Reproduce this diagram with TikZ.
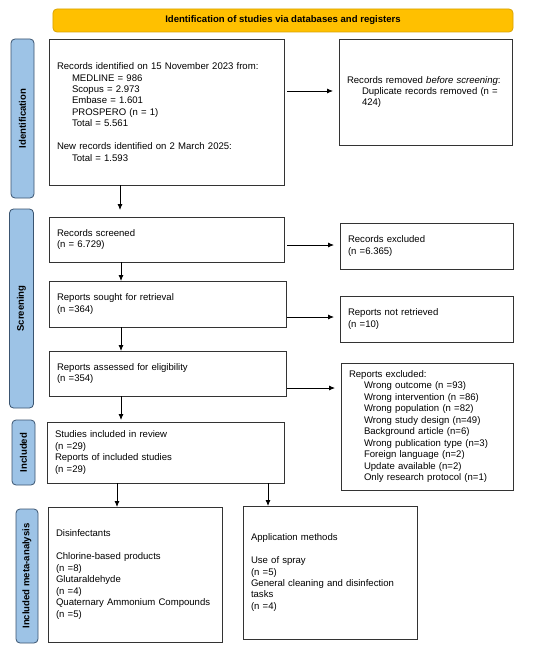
\documentclass[tikz,border=0pt]{standalone}
\usepackage{fontspec}
\setmainfont{Liberation Sans}
\usetikzlibrary{arrows.meta}
\definecolor{hdrfill}{HTML}{FFC000}
\definecolor{hdrdraw}{HTML}{D9A300}
\definecolor{labfill}{HTML}{9DC3E6}
\definecolor{labdraw}{HTML}{3A5470}
\definecolor{boxdraw}{HTML}{333333}
\newcommand\ind{\hspace*{15bp}}
\tikzset{
  box/.style={draw=boxdraw, line width=0.8bp, fill=white, inner xsep=8bp, inner ysep=0bp,
    align=left, font=\fontsize{9.6}{11.5}\selectfont, anchor=north west, outer sep=0pt},
  lab/.style={draw=labdraw, line width=0.8bp, fill=labfill, rounded corners=4bp, rotate=90,
    font=\fontsize{9.6}{11.5}\selectfont\bfseries, inner sep=0pt, outer sep=0pt},
  hdr/.style={draw=hdrdraw, line width=0.8bp, fill=hdrfill, rounded corners=4bp,
    font=\fontsize{9.6}{11.5}\selectfont\bfseries, inner sep=0pt},
  arr/.style={-{Latex[length=6bp,width=5bp]}, line width=0.8bp, black},
}
\begin{document}
\begin{tikzpicture}[x=1bp,y=-1bp]
\useasboundingbox (0,0) rectangle (550,652);
\fill[white] (0,0) rectangle (550,652);

\node[hdr, minimum width=460bp, minimum height=23bp] (hdr) at (283,20.5)
  {Identification of studies via databases and registers};

\node[lab, minimum width=159bp, minimum height=23bp] (idlab) at (22.5,118.5) {Identification};
\node[lab, minimum width=199bp, minimum height=24bp] (scrlab) at (21.5,308.5) {Screening};
\node[lab, minimum width=65bp, minimum height=23bp] (inclab) at (23.5,452.5) {Included};
\node[lab, minimum width=134bp, minimum height=22bp] (metalab) at (27,576) {Included meta-analysis};

\node[box, text width=219bp, minimum height=146bp] (b1) at (49,39) {%
Records identified on 15 November 2023 from:\\
\ind MEDLINE = 986\\
\ind Scopus = 2.973\\
\ind Embase = 1.601\\
\ind PROSPERO (n = 1)\\
\ind Total = 5.561\\[11.5bp]
New records identified on 2 March 2025:\\
\ind Total = 1.593};

\node[box, text width=157bp, minimum height=106bp] (rem) at (339,39) {%
Records removed \textit{before screening}:\\
\ind\mbox{Duplicate records removed (n =}\\
\ind 424)};

\node[box, text width=219bp, minimum height=45bp] (scr) at (49,217) {%
Records screened\\
(n = 6.729)};

\node[box, text width=157bp, minimum height=46bp] (exc) at (340,223) {%
Records excluded\\
(n =6.365)};

\node[box, text width=221bp, minimum height=46bp] (sought) at (49,281) {%
Reports sought for retrieval\\
(n =364)};

\node[box, text width=157bp, minimum height=46bp] (notret) at (340,296) {%
Reports not retrieved\\
(n =10)};

\node[box, text width=221bp, minimum height=45bp] (assess) at (49,351) {%
Reports assessed for eligibility\\
(n =354)};

\node[box, text width=156bp, minimum height=127bp] (repexc) at (341,363) {%
Reports excluded:\\
\ind Wrong outcome (n =93)\\
\ind Wrong intervention (n =86)\\
\ind Wrong population (n =82)\\
\ind Wrong study design (n=49)\\
\ind Background article (n=6)\\
\ind Wrong publication type (n=3)\\
\ind Foreign language (n=2)\\
\ind Update available (n=2)\\
\ind Only research protocol (n=1)};

\node[box, text width=221bp, minimum height=61bp] (incl) at (47,422) {%
Studies included in review\\
(n =29)\\
Reports of included studies\\
(n =29)};

\node[box, text width=158bp, minimum height=135bp] (dis) at (48,507) {%
Disinfectants\\[11.5bp]
Chlorine-based products\\
(n =8)\\
Glutaraldehyde\\
(n =4)\\
\mbox{Quaternary Ammonium Compounds}\\
(n =5)};

\node[box, text width=158bp, minimum height=133bp] (app) at (243,506) {%
Application methods\\[11.5bp]
Use of spray\\
(n =5)\\
\mbox{General cleaning and disinfection}\\
tasks\\
(n =4)};

% helper coordinates
\coordinate (vA) at (120,0);
\coordinate (vB) at (121,0);
\coordinate (vC) at (117,0);
\coordinate (vD) at (268,0);
\coordinate (hA) at (0,91);
\coordinate (hB) at (0,245);
\coordinate (hC) at (0,317);
\coordinate (hD) at (0,388);

% vertical arrows
\draw[arr, shorten >=7bp] (b1.south -| vA) -- (scr.north -| vA);
\draw[arr] (scr.south -| vB) -- (sought.north -| vB);
\draw[arr] (sought.south -| vB) -- (assess.north -| vB);
\draw[arr, shorten >=2bp] (assess.south -| vB) -- (incl.north -| vB);
\draw[arr] (incl.south -| vC) -- (dis.north -| vC);
\draw[arr] (incl.south -| vD) -- (app.north -| vD);

% horizontal arrows
\draw[arr, shorten <=3bp, shorten >=6bp] (b1.east |- hA) -- (rem.west |- hA);
\draw[arr, shorten <=3bp, shorten >=6bp] (scr.east |- hB) -- (exc.west |- hB);
\draw[arr, shorten <=1bp, shorten >=6bp] (sought.east |- hC) -- (notret.west |- hC);
\draw[arr, shorten <=1bp, shorten >=6bp] (assess.east |- hD) -- (repexc.west |- hD);
\end{tikzpicture}
\end{document}
